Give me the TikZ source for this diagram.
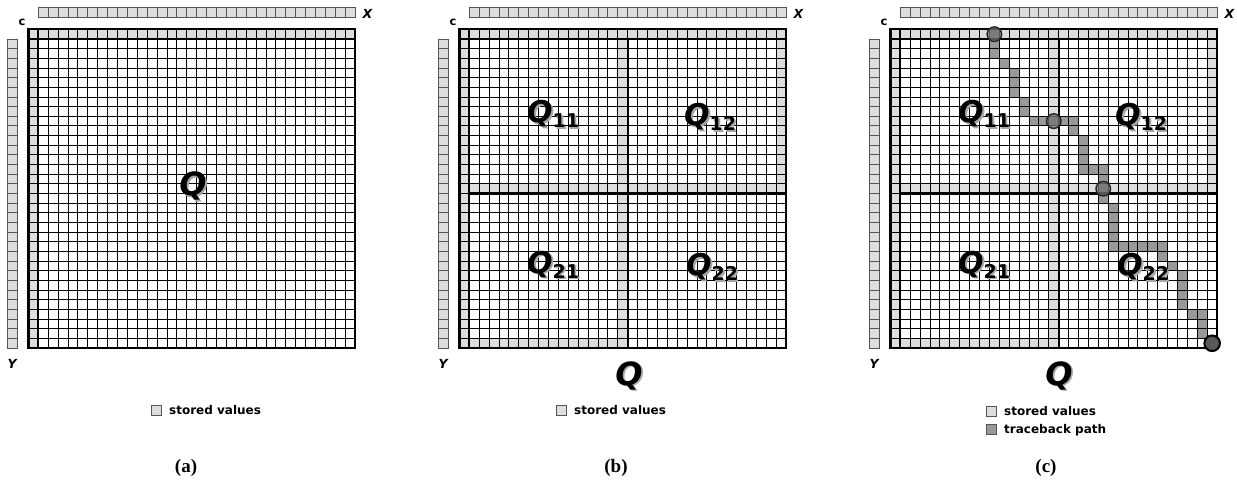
\documentclass[tikz,border=0pt]{standalone}
\usepackage{fontspec}
\setmainfont{DejaVu Sans}
\newfontfamily\capfont{Liberation Serif}
\definecolor{storegray}{HTML}{DDDDDD}
\definecolor{pathgray}{HTML}{999999}
\definecolor{hdrline}{HTML}{555555}
\begin{document}
\begin{tikzpicture}[x=1pt,y=-1pt,
  hdrcell/.style={fill=storegray,draw=hdrline,line width=0.9pt},
  storedfill/.style={fill=storegray},
  pathfill/.style={fill=pathgray},
  gridline/.style={draw=black,line width=0.9pt},
  thickline/.style={draw=black,line width=2.2pt},
  ringmark/.style={draw=black!85,line width=1.4pt,fill=black!55,fill opacity=0.75},
  endmark/.style={draw=black,line width=2pt,fill=black!65},
  lbl/.style={inner sep=0pt,anchor=base west},
  bigq/.style={inner sep=0pt,anchor=base,font=\fontsize{32}{32}\selectfont\bfseries\itshape},
  smalltxt/.style={inner sep=0pt,anchor=base west,font=\fontsize{12}{12}\selectfont\bfseries},
  axislbl/.style={inner sep=0pt,anchor=base west,font=\fontsize{12.5}{12.5}\selectfont\bfseries\itshape},
  clbl/.style={inner sep=0pt,anchor=base west,font=\fontsize{11.5}{11.5}\selectfont\bfseries},
  legendbox/.style={fill=storegray,draw=hdrline,line width=0.9pt},
  pathbox/.style={fill=pathgray,draw=hdrline,line width=0.9pt},
  capt/.style={inner sep=0pt,anchor=base,font=\capfont\fontsize{19}{19}\selectfont\bfseries}
]
\useasboundingbox (0,0) rectangle (1237,481);
\def\cw{9.9}
\def\ch{9.66}
\def\gy{39}
\newcommand\qsub[2]{{\fontsize{30}{30}\selectfont\bfseries\itshape #1}{\fontsize{19}{19}\selectfont\bfseries\raisebox{-5pt}{#2}}}
\newcommand\shlabel[4]{%
  \node[lbl,text=black!35] (#1s) at ({#2+1.8},{#3+1.8}) {#4};
  \node[lbl] (#1) at (#2,#3) {#4};}
\newcommand\bigshq[3]{%
  \node[bigq,text=black!35] (#1s) at ({#2+1.8},{#3+1.8}) {Q};
  \node[bigq] (#1) at (#2,#3) {Q};}
% ---------- base of a panel ----------
\newcommand\basefills[1]{%
  \foreach \i in {0,...,31} \draw[hdrcell] ({#1+\i*\cw},7.5) rectangle ++(\cw,9.5);
  \foreach \j in {0,...,31} \draw[hdrcell] ({#1-31},{\gy+\j*\ch}) rectangle ++(10,\ch);
  \fill[storedfill] ({#1-\cw},{\gy-\ch}) rectangle ({#1+32*\cw},\gy);
  \fill[storedfill] ({#1-\cw},\gy) rectangle (#1,{\gy+32*\ch});}
\newcommand\storedfills[1]{%
  \fill[storedfill] ({#1+15*\cw},\gy) rectangle ({#1+16*\cw},{\gy+32*\ch});
  \fill[storedfill] (#1,{\gy+15*\ch}) rectangle ({#1+32*\cw},{\gy+16*\ch});
  \fill[storedfill] ({#1+31*\cw},\gy) rectangle ({#1+32*\cw},{\gy+16*\ch});
  \fill[storedfill] (#1,{\gy+31*\ch}) rectangle ({#1+16*\cw},{\gy+32*\ch});}
\newcommand\gridlines[1]{%
  \foreach \i in {0,...,32} \draw[gridline] ({#1+\i*\cw},{\gy-\ch}) -- ++(0,{33*\ch});
  \foreach \j in {0,...,32} \draw[gridline] ({#1-\cw},{\gy+\j*\ch}) -- ++({33*\cw},0);
  \draw[thickline] ({#1-\cw},{\gy-\ch}) rectangle ({#1+32*\cw},{\gy+32*\ch});
  \draw[thickline] (#1,{\gy-\ch}) -- (#1,{\gy+32*\ch});
  \draw[thickline] ({#1-\cw},\gy) -- ({#1+32*\cw},\gy);}
\newcommand\quadlines[1]{%
  \draw[thickline] ({#1+16*\cw},\gy) -- ({#1+16*\cw},{\gy+32*\ch});
  \draw[thickline] (#1,{\gy+16*\ch}) -- ({#1+32*\cw},{\gy+16*\ch});}
\newcommand\axislabels[2]{%
  \node[clbl] (c#2) at ({#1-20},26) {c};
  \node[axislbl] (x#2) at ({#1+324},18.5) {X};
  \node[axislbl] (y#2) at ({#1-31},368.5) {Y};}
% ---------- panel (a) ----------
\basefills{38.3}
\gridlines{38.3}
\axislabels{38.3}{a}
\bigshq{qa}{193}{196}
% ---------- panel (b) ----------
\basefills{469.3}
\storedfills{469.3}
\gridlines{469.3}
\quadlines{469.3}
\axislabels{469.3}{b}
% ---------- panel (c) ----------
\basefills{900.3}
\storedfills{900.3}
\foreach \c/\r in {9/-1,9/0,9/1,10/2,11/3,11/4,11/5,12/6,12/7,13/8,14/8,15/8,16/8,17/8,17/9,
  18/10,18/11,18/12,18/13,19/13,20/13,20/14,20/15,20/16,21/17,21/18,21/19,21/20,21/21,
  22/21,23/21,24/21,25/21,26/21,26/22,27/23,28/24,28/25,28/26,28/27,29/28,30/28,30/29,30/30,31/31}
  \fill[pathfill] ({900.3+\c*\cw},{\gy+\r*\ch}) rectangle ++(\cw,\ch);
\gridlines{900.3}
\quadlines{900.3}
\axislabels{900.3}{c}
\foreach \c/\r in {9/-1,15/8,20/15}
  \draw[ringmark] ({900.3+(\c+0.5)*\cw},{\gy+(\r+0.5)*\ch}) circle (7.3);
\draw[endmark] ({900.3+31.5*\cw},{\gy+31.5*\ch}) circle (7.8);
% ---------- quadrant labels ----------
\shlabel{qb11}{527}{123}{\qsub{Q}{11}}
\shlabel{qb12}{684}{126}{\qsub{Q}{12}}
\shlabel{qb21}{527}{273}{\qsub{Q}{21}}
\shlabel{qb22}{686}{276}{\qsub{Q}{22}}
\shlabel{qc11}{958}{123}{\qsub{Q}{11}}
\shlabel{qc12}{1115}{126}{\qsub{Q}{12}}
\shlabel{qc21}{958}{273}{\qsub{Q}{21}}
\shlabel{qc22}{1117}{276}{\qsub{Q}{22}}
\bigshq{qb}{629}{385}
\bigshq{qc}{1059}{385}
% ---------- legends ----------
\draw[legendbox] (151,405) rectangle ++(10,10);
\node[smalltxt] (lega) at (169,414) {stored values};
\draw[legendbox] (556,405) rectangle ++(10,10);
\node[smalltxt] (legb) at (574,414) {stored values};
\draw[legendbox] (986,406) rectangle ++(10,10);
\node[smalltxt] (legc1) at (1004,415) {stored values};
\draw[pathbox] (986,424) rectangle ++(10,10);
\node[smalltxt] (legc2) at (1004,433) {traceback path};
% ---------- captions ----------
\node[capt] (capa) at (186,472) {(a)};
\node[capt] (capb) at (616,472) {(b)};
\node[capt] (capc) at (1046,472) {(c)};
\end{tikzpicture}
\end{document}
